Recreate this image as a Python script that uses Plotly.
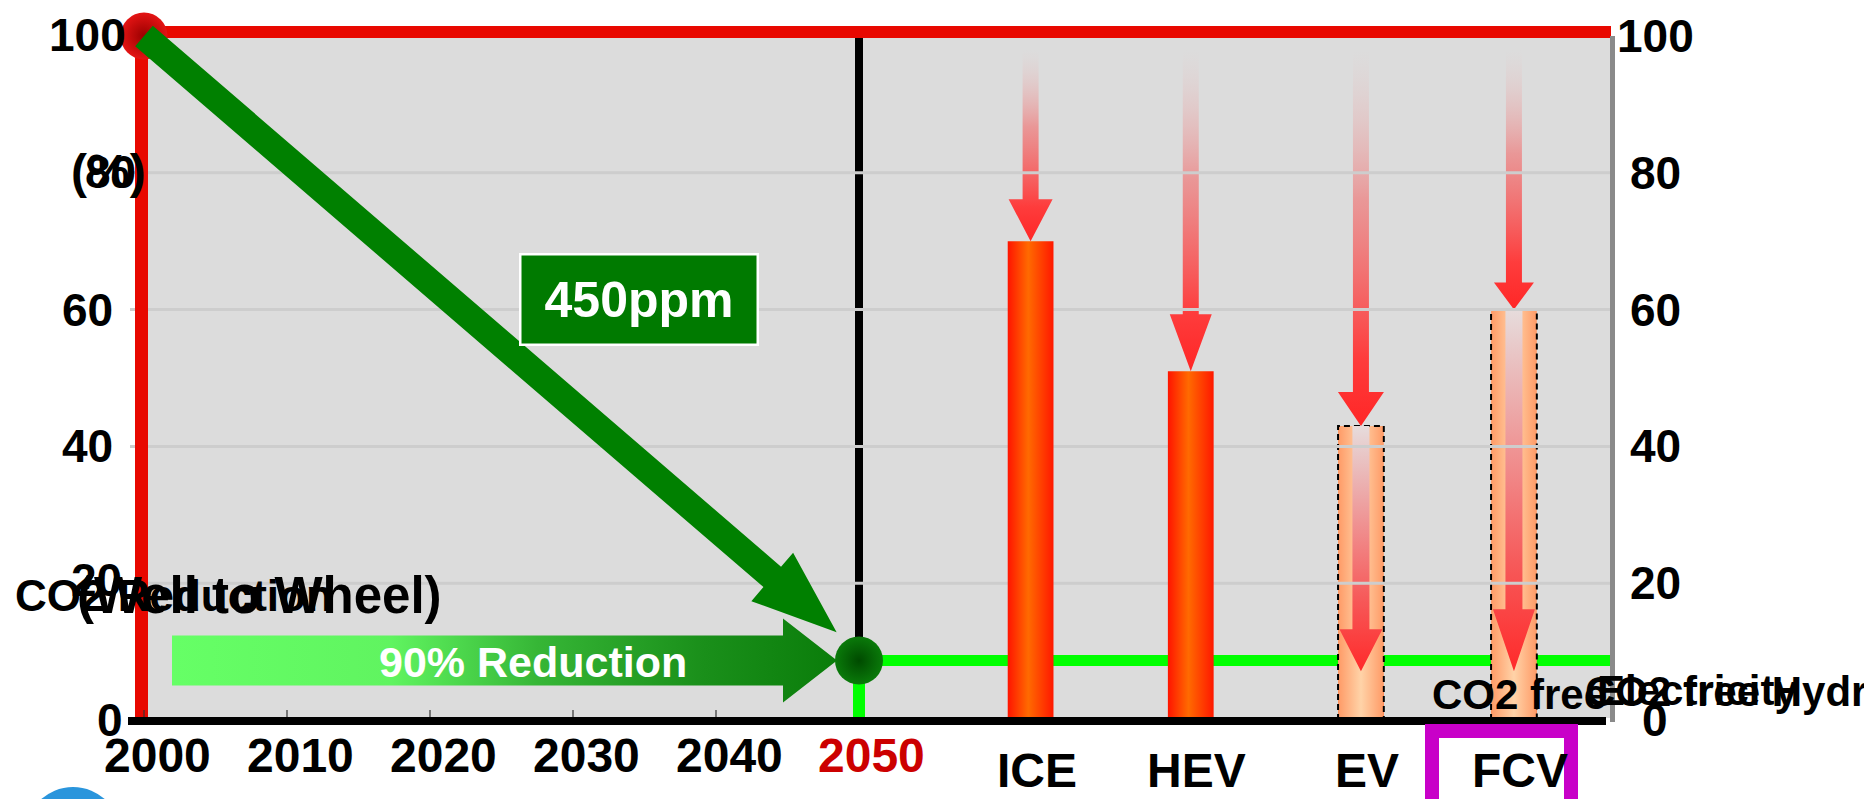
import math
import plotly.graph_objects as go

# ---------------- data ----------------
years = [2000, 2010, 2020, 2030, 2040, 2050]
year_labels = ["2000", "2010", "2020", "2030", "2040", "2050"]
y_ticks = [0, 20, 40, 60, 80, 100]
y_tick_labels = ["0", "20", "40", "60", "80", "100"]

co2_2000 = 100            # CO2 index in 2000
co2_target = 10           # 450 ppm pathway: 90 % reduction by 2050
co2_2050 = 8.7            # level held after 2050 (green line)

vehicles = ["ICE", "HEV", "EV", "FCV"]
wtw_index = [70, 51, 43, 60]              # well-to-wheel CO2, conventional energy
co2_free_index = [None, None, 4.5, 4.5]   # with CO2-free electricity / hydrogen

# ---------------- geometry / style ----------------
W, H = 1864, 799
PX_L, PX_R, PX_T, PX_B = 110, 1620, 10, 730     # plotting rectangle in pixels
X0_PX, X_SCALE = 144.0, 14.3                    # pixel of year 2000, pixels per year
Y0_PX, Y_SCALE = 720.0, 6.84                    # pixel of index 0, pixels per unit

vehicle_x = [2062.0, 2073.2, 2085.1, 2095.8]
bar_width = 3.2
solid_bar = [True, True, False, False]
outer_head_h = [42, 57, 34, 27]
outer_head_w = [44, 42, 46, 40]
inner_head_h = {2: 42, 3: 62}
inner_head_w = {2: 43, 3: 42}

FONT = "Liberation Sans, Arial, Helvetica, sans-serif"
RED = "#e80800"
LIME = "#00ff00"


def px_x(x):
    return X0_PX + (x - 2000) * X_SCALE


def px_y(y):
    return Y0_PX - y * Y_SCALE


def dx(px):
    return 2000 + (px - X0_PX) / X_SCALE


def dy(py):
    return (Y0_PX - py) / Y_SCALE


def paper_x(px):
    return (px - PX_L) / (PX_R - PX_L)


def paper_y(py):
    return (PX_B - py) / (PX_B - PX_T)


def polygon(points_px):
    xs = [dx(p[0]) for p in points_px]
    ys = [dy(p[1]) for p in points_px]
    return xs + [xs[0]], ys + [ys[0]]


def down_arrow(cx, top, tip, shaft_w, head_w, head_h):
    base = tip - head_h
    s, h = shaft_w / 2, head_w / 2
    return polygon([(cx - s, top), (cx + s, top), (cx + s, base), (cx + h, base),
                    (cx, tip), (cx - h, base), (cx - s, base)])


def line(x, y, color, width, dash=None):
    return go.Scatter(x=x, y=y, mode="lines", hoverinfo="skip",
                      line=dict(color=color, width=width, dash=dash))


def gradient_fill(xs, ys, kind, colorscale, start, stop):
    return go.Scatter(x=xs, y=ys, mode="lines", fill="toself", hoverinfo="skip",
                      line=dict(width=0),
                      fillgradient=dict(type=kind, colorscale=colorscale,
                                        start=start, stop=stop))


fig = go.Figure()

# 2050 marker line, green 2050 level
fig.add_trace(line([2050, 2050], [co2_2050, dy(38)], "black", 8))
fig.add_trace(line([2050, 2050], [0, co2_2050], LIME, 12))
fig.add_trace(line([2050, dx(1610)], [co2_2050, co2_2050], LIME, 11))

# reduction arrows falling onto each vehicle bar
arrow_scale = [[0, "rgb(255,38,38)"], [0.18, "rgba(255,55,55,0.97)"],
               [0.6, "rgba(242,105,105,0.6)"], [1, "rgba(235,190,190,0)"]]
for i, v in enumerate(wtw_index):
    cx = px_x(vehicle_x[i])
    xs, ys = down_arrow(cx, 50, px_y(v), 16, outer_head_w[i], outer_head_h[i])
    fig.add_trace(gradient_fill(xs, ys, "vertical", arrow_scale, v, dy(50)))

# EV / FCV: today's level shown as a light cylinder
peach_scale = [[0, "#ff9a66"], [0.5, "#ffd3a8"], [1, "#ff9a66"]]
for i, v in enumerate(wtw_index):
    if solid_bar[i]:
        continue
    x0, x1 = vehicle_x[i] - bar_width / 2, vehicle_x[i] + bar_width / 2
    fig.add_trace(gradient_fill([x0, x1, x1, x0, x0], [0, 0, v, v, 0],
                                "horizontal", peach_scale, x0, x1))
    fig.add_trace(line([x0, x0, x1, x1], [0, v, v, 0], "black", 2, "6px,4px"))
    cx = px_x(vehicle_x[i])
    tip = px_y(co2_free_index[i]) - 18
    xs, ys = down_arrow(cx, px_y(v), tip, 17, inner_head_w[i], inner_head_h[i])
    fig.add_trace(gradient_fill(xs, ys, "vertical",
                                [[0, "#ff2a2a"], [0.3, "#f65a5a"], [1, "#e6dcdc"]],
                                dy(tip), v))

# CO2-free energy levels
fig.add_trace(go.Bar(
    x=[vehicle_x[i] for i in range(4) if co2_free_index[i] is not None],
    y=[c for c in co2_free_index if c is not None],
    width=bar_width, marker=dict(color="#ff3300", line=dict(width=0)),
    hoverinfo="skip"))

# horizontal gridlines
for t in y_ticks[1:-1]:
    fig.add_trace(line([dx(130), dx(1610)], [t, t], "#cdcdcd", 3))

# ICE / HEV bars
bar_scale = [[0, "#ff1400"], [0.45, "#ff6a00"], [1, "#ff1800"]]
for i, v in enumerate(wtw_index):
    if not solid_bar[i]:
        continue
    x0, x1 = vehicle_x[i] - bar_width / 2, vehicle_x[i] + bar_width / 2
    fig.add_trace(gradient_fill([x0, x1, x1, x0, x0], [0, 0, v, v, 0],
                                "horizontal", bar_scale, x0, x1))

# frame
fig.add_trace(line([dx(135), dx(1611)], [dy(32), dy(32)], RED, 12))
fig.add_trace(line([dx(141.5), dx(141.5)], [dy(26), dy(717)], RED, 13))
fig.add_trace(line([dx(1612.5), dx(1612.5)], [dy(36), dy(722)], "#8a8a8a", 5))
fig.add_trace(line([dx(128), dx(1606)], [dy(721), dy(721)], "black", 8))

# year ticks
tx, ty = [], []
for yr in years[:-1]:
    tx += [yr, yr, None]
    ty += [dy(717), dy(710), None]
fig.add_trace(line(tx, ty, "#333333", 1.2))

# 2000 starting point
fig.add_trace(go.Scatter(x=[2000], y=[co2_2000], mode="markers", hoverinfo="skip",
                         marker=dict(size=47, color="#e41414", line=dict(width=0),
                                     gradient=dict(type="radial", color="#9a0000"))))

# 450 ppm pathway arrow
sx, sy = px_x(2000), px_y(co2_2000)
ex, ey = px_x(2050), px_y(co2_target)
L = math.hypot(ex - sx, ey - sy)
ux, uy = (ex - sx) / L, (ey - sy) / L
nx, ny = -uy, ux
tipx, tipy = ex - 29.5 * ux, ey - 29.5 * uy
bx, by = tipx - 85 * ux, tipy - 85 * uy
s, h = 13.5, 32
xs, ys = polygon([(sx + s * nx, sy + s * ny), (bx + s * nx, by + s * ny),
                  (bx + h * nx, by + h * ny), (tipx, tipy),
                  (bx - h * nx, by - h * ny), (bx - s * nx, by - s * ny),
                  (sx - s * nx, sy - s * ny)])
fig.add_trace(go.Scatter(x=xs, y=ys, mode="lines", fill="toself", fillcolor="#008000",
                         line=dict(width=0), hoverinfo="skip"))

# 90 % reduction arrow
c = px_y(co2_2050)
xs, ys = polygon([(172, c - 25), (783, c - 25), (783, c - 42), (837, c),
                  (783, c + 42), (783, c + 25), (172, c + 25)])
fig.add_trace(gradient_fill(xs, ys, "horizontal",
                            [[0, "#66ff66"], [0.33, "#60f460"], [0.55, "#36b636"],
                             [0.8, "#1a8f1a"], [1, "#0a7d0a"]], dx(172), dx(837)))

# 2050 point
fig.add_trace(go.Scatter(x=[2050], y=[co2_2050], mode="markers", hoverinfo="skip",
                         marker=dict(size=48, color="#0a7a0a", line=dict(width=0),
                                     gradient=dict(type="radial", color="#004a00"))))


# ---------------- text ----------------
def label(text, px, py, size, color="black", xanchor="center"):
    return dict(text=f"<b>{text}</b>", x=paper_x(px), y=paper_y(py),
                xref="paper", yref="paper", xanchor=xanchor, yanchor="middle",
                showarrow=False, font=dict(size=size, color=color, family=FONT))


ann = []
left_label_px = [110, 96, 87, 87, 110, 87]
left_label_dy = [0, 3, 0, 0, 1, 1]
for t, txt, lx, sh in zip(y_ticks, y_tick_labels, left_label_px, left_label_dy):
    ann.append(label(txt, lx, px_y(t) - sh, 46))
    ann.append(label(txt, 1655, px_y(t), 46))

for yr, txt in zip(years, year_labels):
    ann.append(label(txt, px_x(yr) + 13, 755, 48,
                     "#cc0000" if yr == 2050 else "black"))
for vx, name in zip(vehicle_x, vehicles):
    ann.append(label(name, px_x(vx) + 6, 770, 48))

ann.append(label("(%)", 108, 172, 48))
ann.append(label("CO2 Reduction", 13, 595, 44, xanchor="left"))
ann.append(label("(Well to Wheel)", 75, 595, 51, xanchor="left"))
ann.append(label("90% Reduction", 533, 662, 43, "white"))
ann.append(label("CO2 free", 1430, 694, 42, xanchor="left"))
ann.append(label("CO2 free Hydrogen", 1583, 691, 42, xanchor="left"))
ann.append(label("Electricity", 1595, 690, 42, xanchor="left"))
ann.append(dict(text="<b>450ppm</b>", x=paper_x(638.5), y=paper_y(299),
                xref="paper", yref="paper", xanchor="center", yanchor="middle",
                showarrow=False, width=235, height=88, bgcolor="#007a00",
                bordercolor="white", borderwidth=2.5, borderpad=0,
                font=dict(size=50, color="white", family=FONT)))

shapes = [
    dict(type="rect", xref="x", yref="y", x0=dx(148), x1=dx(1610), y0=dy(718),
         y1=dy(38), fillcolor="#dcdcdc", line=dict(width=0), layer="below"),
    dict(type="rect", xref="paper", yref="paper", x0=paper_x(1432), x1=paper_x(1571),
         y0=paper_y(840), y1=paper_y(731), line=dict(color="#c800c8", width=14),
         fillcolor="rgba(0,0,0,0)", layer="above"),
    dict(type="circle", xref="paper", yref="paper", x0=paper_x(25), x1=paper_x(121),
         y0=paper_y(883), y1=paper_y(787), fillcolor="#2a95dc",
         line=dict(width=0), layer="above"),
]

fig.update_layout(
    width=W, height=H,
    margin=dict(l=PX_L, r=W - PX_R, t=PX_T, b=H - PX_B, pad=0),
    paper_bgcolor="white", plot_bgcolor="white",
    showlegend=False, barmode="overlay",
    xaxis=dict(range=[dx(PX_L), dx(PX_R)], visible=False, fixedrange=True),
    yaxis=dict(range=[dy(PX_B), dy(PX_T)], visible=False, fixedrange=True),
    annotations=ann, shapes=shapes,
)

fig.write_html("out.html")
